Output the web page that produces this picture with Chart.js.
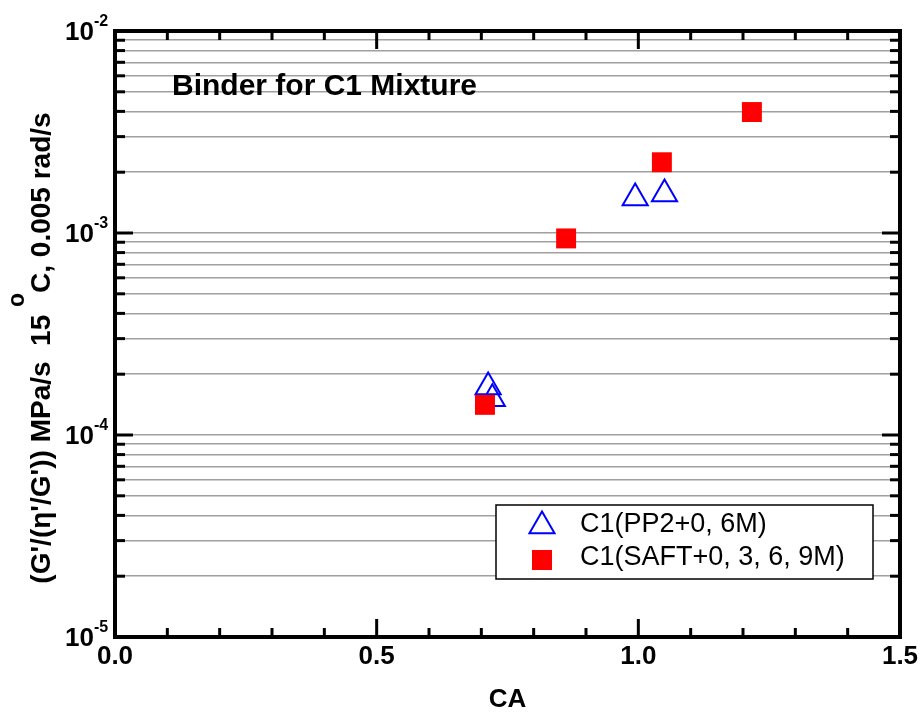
<!DOCTYPE html>
<html>
<head>
<meta charset="utf-8">
<script src="https://cdn.jsdelivr.net/npm/chart.js@4.4.1/dist/chart.umd.min.js"></script>
<style>
  html, body { margin: 0; padding: 0; background: #fff; }
  canvas { display: block; }
</style>
</head>
<body>
<canvas id="myChart" width="923" height="715"></canvas>
<script>
// C1 binder, PP2 ageing
const pp2Label = 'C1(PP2+0, 6M)';
const pp2CA = [0.713, 0.721, 0.994, 1.050];
const pp2Rate = [1.73e-4, 1.51e-4, 1.49e-3, 1.56e-3];

// C1 binder, SAFT ageing
const saftLabel = 'C1(SAFT+0, 3, 6, 9M)';
const saftCA = [0.707, 0.862, 1.045, 1.217];
const saftRate = [1.41e-4, 9.4e-4, 2.24e-3, 3.97e-3];

// axis ticks
const xTickLabels = ['0.0', '0.5', '1.0', '1.5'];
const yDecades = [-5, -4, -3, -2];

const FONT = '"Liberation Sans", Arial, sans-serif';

const toPoints = (xs, ys) => xs.map((x, i) => ({ x: x, y: ys[i] }));

// frame, inward ticks, labels and the legend box
const framePlugin = {
  id: 'frame',
  afterDraw(chart) {
    const { ctx, chartArea: a, scales: { x, y } } = chart;
    ctx.save();

    const seg = (x1, y1, x2, y2) => {
      ctx.beginPath(); ctx.moveTo(x1, y1); ctx.lineTo(x2, y2); ctx.stroke();
    };

    ctx.strokeStyle = '#000';
    ctx.lineWidth = 3;
    x.ticks.forEach(t => {
      const px = x.getPixelForValue(t.value);
      const major = Math.abs(t.value * 2 - Math.round(t.value * 2)) < 1e-6;
      const len = major ? 18 : 9;
      seg(px, a.bottom, px, a.bottom - len);
      seg(px, a.top, px, a.top + len);
    });
    y.ticks.forEach(t => {
      const py = y.getPixelForValue(t.value);
      const e = Math.log10(t.value);
      const major = Math.abs(e - Math.round(e)) < 1e-6;
      const len = major ? 18 : 10;
      seg(a.left, py, a.left + len, py);
      seg(a.right, py, a.right - len, py);
    });

    ctx.lineWidth = 4;
    ctx.strokeRect(a.left, a.top, a.right - a.left, a.bottom - a.top);

    // tick labels
    ctx.fillStyle = '#000';
    ctx.font = 'bold 26px ' + FONT;
    ctx.textAlign = 'center';
    ctx.textBaseline = 'middle';
    xTickLabels.forEach(s => {
      ctx.fillText(s, x.getPixelForValue(parseFloat(s)), a.bottom + 20);
    });

    yDecades.forEach(d => {
      const py = y.getPixelForValue(Math.pow(10, d));
      ctx.font = 'bold 26px ' + FONT;
      ctx.textAlign = 'right';
      ctx.textBaseline = 'middle';
      ctx.fillText('10', 94, py + 2);
      ctx.font = 'bold 16px ' + FONT;
      ctx.textAlign = 'left';
      ctx.textBaseline = 'alphabetic';
      ctx.fillText(String(d), 94, py - 5);
    });

    // axis titles
    ctx.font = 'bold 26px ' + FONT;
    ctx.textAlign = 'center';
    ctx.textBaseline = 'middle';
    ctx.fillText('CA', (a.left + a.right) / 2, 700);

    ctx.save();
    ctx.translate(50, 348);
    ctx.rotate(-Math.PI / 2);
    const p1 = '(G\'/(\u03B7\'/G\')) MPa/s  15 ';
    const p2 = 'o';
    const p3 = 'C, 0.005 rad/s';
    ctx.font = 'bold 28px ' + FONT;
    const w1 = ctx.measureText(p1).width;
    const w3 = ctx.measureText(p3).width;
    ctx.font = 'bold 23px ' + FONT;
    const w2 = ctx.measureText(p2).width;
    let cx = -(w1 + w2 + w3) / 2;
    ctx.textAlign = 'left';
    ctx.textBaseline = 'alphabetic';
    ctx.font = 'bold 28px ' + FONT;
    ctx.fillText(p1, cx, 0);
    cx += w1;
    ctx.font = 'bold 23px ' + FONT;
    ctx.fillText(p2, cx, -26);
    cx += w2;
    ctx.font = 'bold 28px ' + FONT;
    ctx.fillText(p3, cx, 0);
    ctx.restore();

    // annotation
    ctx.font = 'bold 30px ' + FONT;
    ctx.textAlign = 'left';
    ctx.textBaseline = 'alphabetic';
    ctx.fillText('Binder for C1 Mixture', 172, 95);

    // legend
    ctx.fillStyle = '#fff';
    ctx.fillRect(496, 505, 377, 74);
    ctx.lineWidth = 1.5;
    ctx.strokeStyle = '#000';
    ctx.strokeRect(496, 505, 377, 74);

    const r = 14.5;
    ctx.strokeStyle = '#0000ff';
    ctx.lineWidth = 2;
    ctx.beginPath();
    for (let k = 0; k < 3; k++) {
      const ang = k * 2 * Math.PI / 3;
      const px = 542 + Math.sin(ang) * r, py = 526 - Math.cos(ang) * r;
      k ? ctx.lineTo(px, py) : ctx.moveTo(px, py);
    }
    ctx.closePath();
    ctx.stroke();
    ctx.fillStyle = '#ff0000';
    ctx.fillRect(532, 550, 20, 20);

    ctx.fillStyle = '#000';
    ctx.font = '27px ' + FONT;
    ctx.textBaseline = 'middle';
    ctx.fillText(pp2Label, 580, 525);
    ctx.fillText(saftLabel, 580, 558);

    ctx.restore();
  }
};

new Chart(
  document.getElementById('myChart'),
  {
    type: 'scatter',
    data: {
      datasets: [
        {
          label: pp2Label,
          data: toPoints(pp2CA, pp2Rate),
          pointStyle: 'triangle',
          pointRadius: 14.5,
          pointHoverRadius: 14.5,
          backgroundColor: 'rgba(0,0,0,0)',
          borderColor: '#0000ff',
          pointBorderWidth: 2,
          order: 2
        },
        {
          label: saftLabel,
          data: toPoints(saftCA, saftRate),
          pointStyle: 'rect',
          pointRadius: 14.1,
          pointHoverRadius: 14.1,
          backgroundColor: '#ff0000',
          borderColor: '#ff0000',
          pointBorderWidth: 0,
          order: 1
        }
      ]
    },
    options: {
      responsive: false,
      animation: false,
      devicePixelRatio: 1,
      layout: { padding: { left: 115, top: 31, right: 23, bottom: 78 } },
      scales: {
        x: {
          type: 'linear',
          min: 0,
          max: 1.5,
          ticks: { display: false, stepSize: 0.1 },
          grid: { display: false },
          border: { display: false },
          afterFit: s => { s.height = 0; }
        },
        y: {
          type: 'logarithmic',
          min: 1e-5,
          max: 1e-2,
          afterBuildTicks: s => {
            const ticks = [];
            for (let e = -5; e < -2; e++) {
              for (let m = 1; m < 10; m++) ticks.push({ value: m * Math.pow(10, e) });
            }
            ticks.push({ value: 1e-2 });
            s.ticks = ticks;
          },
          ticks: { display: false },
          grid: { color: '#a0a0a0', lineWidth: 1.5, drawTicks: false },
          border: { display: false },
          afterFit: s => { s.width = 0; }
        }
      },
      plugins: {
        legend: { display: false },
        tooltip: { enabled: false },
        title: { display: false }
      }
    },
    plugins: [framePlugin]
  }
);
</script>
</body>
</html>
